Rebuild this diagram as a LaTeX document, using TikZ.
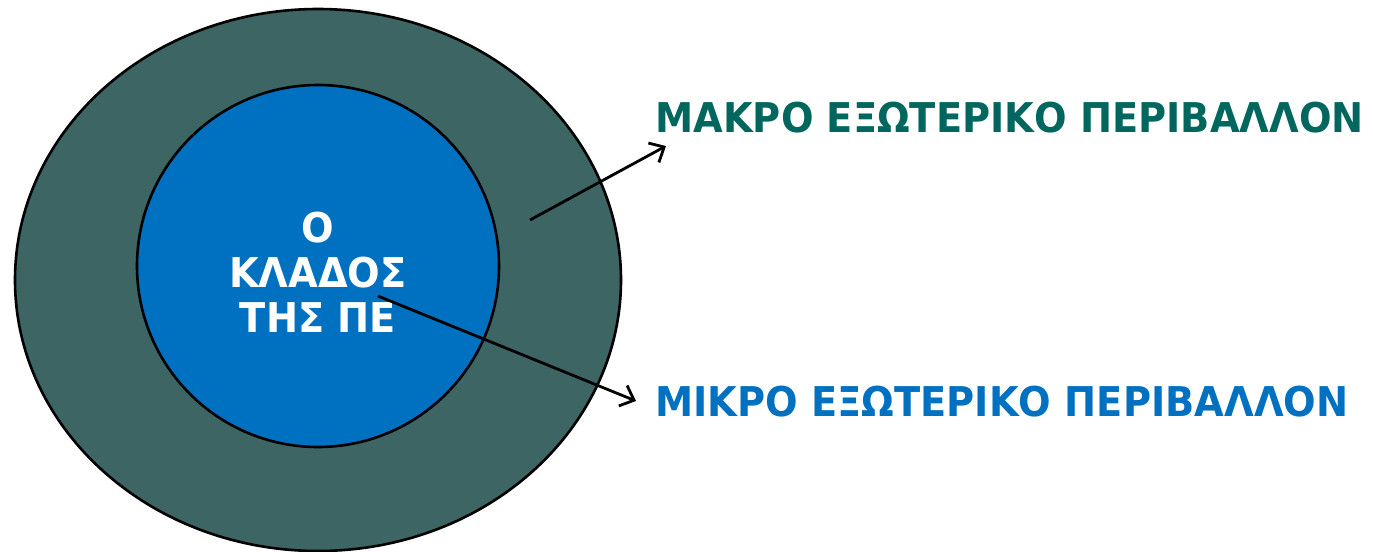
\documentclass[tikz,border=0pt]{standalone}
\usepackage{fontspec}
\setmainfont[FakeStretch=0.935]{DejaVu Sans}
\usetikzlibrary{arrows.meta}

\definecolor{ringcol}{HTML}{3D6563}
\definecolor{corecol}{HTML}{0070C0}
\definecolor{macrocol}{HTML}{00665E}

\tikzset{
  label/.style={font=\bfseries\fontsize{20.5}{22.5}\selectfont, anchor=west, inner sep=0pt},
  pointer/.style={line width=1.4pt, -{Straight Barb[length=6pt,width=11pt,line width=1.4pt]}}
}

\begin{document}
\begin{tikzpicture}[x=0.5pt,y=-0.5pt]
\useasboundingbox (0,0) rectangle (1373,552);

%cercles
\draw[line width=1.3pt, fill=ringcol] (318,280) ellipse (303 and 271);
\draw[line width=1.3pt, fill=corecol] (318,266) circle (181);

%texte du centre
\node[align=center, text=white, font=\bfseries\fontsize{20.5}{22.5}\selectfont, inner sep=0pt] (klados) at (318,272) {Ο\\ΚΛΑΔΟΣ\\ΤΗΣ ΠΕ};

%etiquettes
\node[label, text=macrocol] (macro) at (655,118) {ΜΑΚΡΟ ΕΞΩΤΕΡΙΚΟ ΠΕΡΙΒΑΛΛΟΝ};
\node[label, text=corecol] (micro) at (655,402) {ΜΙΚΡΟ ΕΞΩΤΕΡΙΚΟ ΠΕΡΙΒΑΛΛΟΝ};

%fleches
\coordinate (macrofrom) at (530,220);
\coordinate (macroto) at (666,146);
\coordinate (microfrom) at (378,296);
\coordinate (microto) at (636,401);
\draw[pointer] (macrofrom) -- (macroto);
\draw[pointer] (microfrom) -- (microto);

\end{tikzpicture}
\end{document}
